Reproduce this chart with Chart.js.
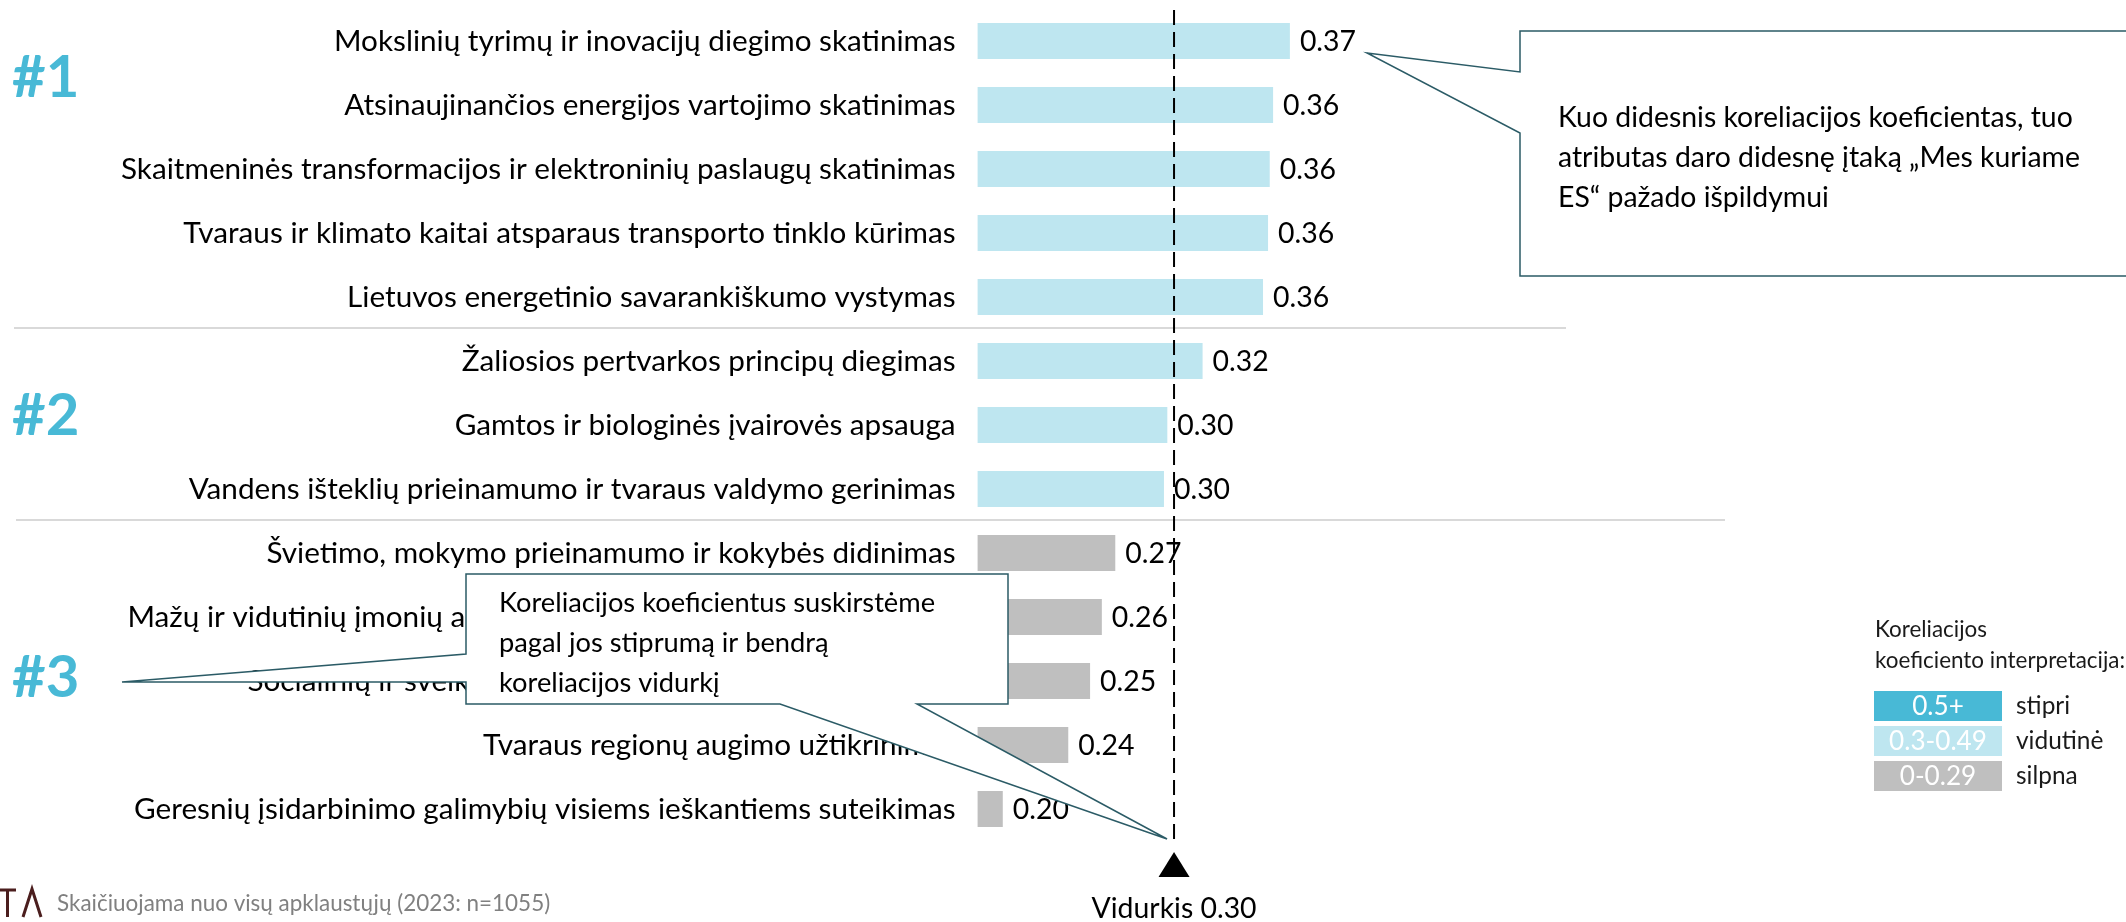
<!DOCTYPE html>
<html><head><meta charset="utf-8">
<script src="https://cdn.jsdelivr.net/npm/chart.js@4"></script>
<style>html,body{margin:0;padding:0;background:#fff;overflow:hidden}#wrap{width:2126px;height:922px;position:relative}</style>
</head><body><div id="wrap"><canvas id="c"></canvas></div>
<script>
const categories = [
  'Mokslinių tyrimų ir inovacijų diegimo skatinimas',
  'Atsinaujinančios energijos vartojimo skatinimas',
  'Skaitmeninės transformacijos ir elektroninių paslaugų skatinimas',
  'Tvaraus ir klimato kaitai atsparaus transporto tinklo kūrimas',
  'Lietuvos energetinio savarankiškumo vystymas',
  'Žaliosios pertvarkos principų diegimas',
  'Gamtos ir biologinės įvairovės apsauga',
  'Vandens išteklių prieinamumo ir tvaraus valdymo gerinimas',
  'Švietimo, mokymo prieinamumo ir kokybės didinimas',
  'Mažų ir vidutinių įmonių augimo ir konkurencingumo skatinimas',
  'Socialinių ir sveikatos paslaugų prieinamumo didinimas',
  'Tvaraus regionų augimo užtikrinimas',
  'Geresnių įsidarbinimo galimybių visiems ieškantiems suteikimas'
];
const values = [0.372, 0.362, 0.360, 0.359, 0.356, 0.320, 0.299, 0.297, 0.268, 0.260, 0.253, 0.240, 0.201];
const meanValue = 0.303;
const meanLabel = 'Vidurkis 0.30';
const groupLabels = ['#1', '#2', '#3'];
const groupBreaks = [4.5, 7.5];
const legendTitle = ['Koreliacijos', 'koeficiento interpretacija:'];
const legendRanges = ['0.5+', '0.3-0.49', '0-0.29'];
const legendNames = ['stipri', 'vidutinė', 'silpna'];
const calloutRightText = ['Kuo didesnis koreliacijos koeficientas, tuo', 'atributas daro didesnę įtaką „Mes kuriame', 'ES“ pažado išpildymui'];
const calloutLeftText = ['Koreliacijos koeficientus suskirstėme', 'pagal jos stiprumą ir bendrą', 'koreliacijos vidurkį'];
const footnote = 'Skaičiuojama nuo visų apklaustųjų (2023: n=1055)';

const FONT = 'Lato, "Open Sans", sans-serif';
const C_STRONG = '#48B9D6', C_MID = '#BEE6F0', C_WEAK = '#BFBFBF';
const C_CALLOUT = '#2B5B66';

function build(){
  const mc = document.createElement('canvas').getContext('2d');
  mc.font = '100px ' + FONT;
  const BASE = 100 * 799 / mc.measureText(categories[2]).width;
  const LBL = BASE * 1.045;

  const overlay = {
    id: 'overlay',
    afterDraw(chart){
      const {ctx, scales:{x, y}} = chart;
      ctx.save();
      // separators
      const sepX = [[14, 1566], [16, 1725]];
      ctx.strokeStyle = '#D9D9D9'; ctx.lineWidth = 2;
      groupBreaks.forEach((b, i) => {
        const py = Math.round(y.getPixelForValue(b)) - 1;
        ctx.beginPath(); ctx.moveTo(sepX[i][0], py); ctx.lineTo(sepX[i][1], py); ctx.stroke();
      });
      // value labels
      ctx.font = BASE + 'px ' + FONT; ctx.fillStyle = '#000';
      ctx.textBaseline = 'middle'; ctx.textAlign = 'left';
      chart.getDatasetMeta(0).data.forEach((bar, i) => {
        ctx.fillText(values[i].toFixed(2), bar.x + 10, bar.y + 1);
      });
      // mean line
      const mx = x.getPixelForValue(meanValue);
      ctx.setLineDash([15, 7]); ctx.strokeStyle = '#000'; ctx.lineWidth = 2;
      ctx.beginPath(); ctx.moveTo(mx, 10); ctx.lineTo(mx, 840); ctx.stroke();
      ctx.setLineDash([]);
      ctx.beginPath(); ctx.moveTo(mx, 852); ctx.lineTo(mx + 15.5, 877); ctx.lineTo(mx - 15.5, 877); ctx.closePath(); ctx.fill();
      ctx.textAlign = 'center'; ctx.textBaseline = 'alphabetic';
      ctx.fillText(meanLabel, mx, 918);
      // group labels
      ctx.font = 'bold 58px ' + FONT; ctx.fillStyle = C_STRONG; ctx.textAlign = 'left';
      [97, 435, 697].forEach((by, i) => ctx.fillText(groupLabels[i], 12, by));
      // callouts
      ctx.lineWidth = 1.5; ctx.strokeStyle = C_CALLOUT; ctx.fillStyle = '#fff';
      const tip = mx - 7;
      ctx.beginPath();
      ctx.moveTo(466, 574); ctx.lineTo(1008, 574); ctx.lineTo(1008, 704);
      ctx.lineTo(917, 704); ctx.lineTo(tip, 839); ctx.lineTo(780, 704);
      ctx.lineTo(466, 704); ctx.lineTo(466, 682); ctx.lineTo(122, 682); ctx.lineTo(466, 654);
      ctx.closePath(); ctx.fill(); ctx.stroke();
      ctx.beginPath();
      ctx.moveTo(1520, 31); ctx.lineTo(2140, 31); ctx.lineTo(2140, 276); ctx.lineTo(1520, 276);
      ctx.lineTo(1520, 133); ctx.lineTo(1367, 53); ctx.lineTo(1520, 72);
      ctx.closePath(); ctx.fill(); ctx.stroke();
      ctx.fillStyle = '#000'; ctx.textBaseline = 'middle';
      ctx.font = (BASE * 0.96) + 'px ' + FONT;
      calloutLeftText.forEach((t, i) => ctx.fillText(t, 499, 603 + 40 * i));
      ctx.font = BASE + 'px ' + FONT;
      calloutRightText.forEach((t, i) => ctx.fillText(t, 1558, 118 + 40 * i));
      // legend
      ctx.fillStyle = '#1a1a1a'; ctx.font = (BASE * 0.79) + 'px ' + FONT;
      ctx.fillText(legendTitle[0], 1875, 630); ctx.fillText(legendTitle[1], 1875, 661);
      const lc = [C_STRONG, C_MID, C_WEAK];
      legendRanges.forEach((r, i) => {
        const top = 691 + 35 * i;
        ctx.fillStyle = lc[i]; ctx.fillRect(1874, top, 128, 30);
        ctx.fillStyle = '#fff'; ctx.textAlign = 'center'; ctx.font = (BASE * 0.92) + 'px ' + FONT;
        ctx.fillText(r, 1938, top + 16);
        ctx.fillStyle = '#1a1a1a'; ctx.textAlign = 'left'; ctx.font = (BASE * 0.86) + 'px ' + FONT;
        ctx.fillText(legendNames[i], 2016, top + 15);
      });
      // footer logo + note
      ctx.strokeStyle = '#4B1E1E'; ctx.lineWidth = 3;
      ctx.beginPath(); ctx.moveTo(0, 890); ctx.lineTo(16, 890); ctx.moveTo(7.5, 890); ctx.lineTo(7.5, 917);
      ctx.moveTo(23, 917); ctx.lineTo(32, 889); ctx.lineTo(41, 917); ctx.stroke();
      ctx.fillStyle = '#808080'; ctx.font = (BASE * 0.79) + 'px ' + FONT; ctx.textAlign = 'left';
      ctx.fillText(footnote, 57, 904);
      ctx.restore();
    }
  };

  new Chart(document.getElementById('c'), {
    type: 'bar',
    data: {
      labels: categories,
      datasets: [{
        data: values,
        backgroundColor: values.map(v => Math.round(v * 100) / 100 >= 0.3 ? C_MID : C_WEAK),
        barPercentage: 0.5625, categoryPercentage: 1
      }]
    },
    options: {
      indexAxis: 'y', responsive: true, maintainAspectRatio: false, animation: false,
      layout: {padding: {top: 9, bottom: 81, left: 0, right: 0}},
      plugins: {legend: {display: false}, tooltip: {enabled: false}},
      scales: {
        x: {display: false, min: 0.186, max: 0.87},
        y: {
          grid: {display: false, drawTicks: false}, border: {display: false},
          ticks: {color: '#000', font: {family: FONT, size: LBL}, padding: 22, autoSkip: false},
          afterFit(s){ s.width = 977.6; s.paddingTop = 0; s.paddingBottom = 0; }
        }
      }
    },
    plugins: [overlay]
  });
}
if (document.fonts && document.fonts.load) {
  document.fonts.load('100px Lato').then(build, build);
} else build();
</script>
</body></html>
